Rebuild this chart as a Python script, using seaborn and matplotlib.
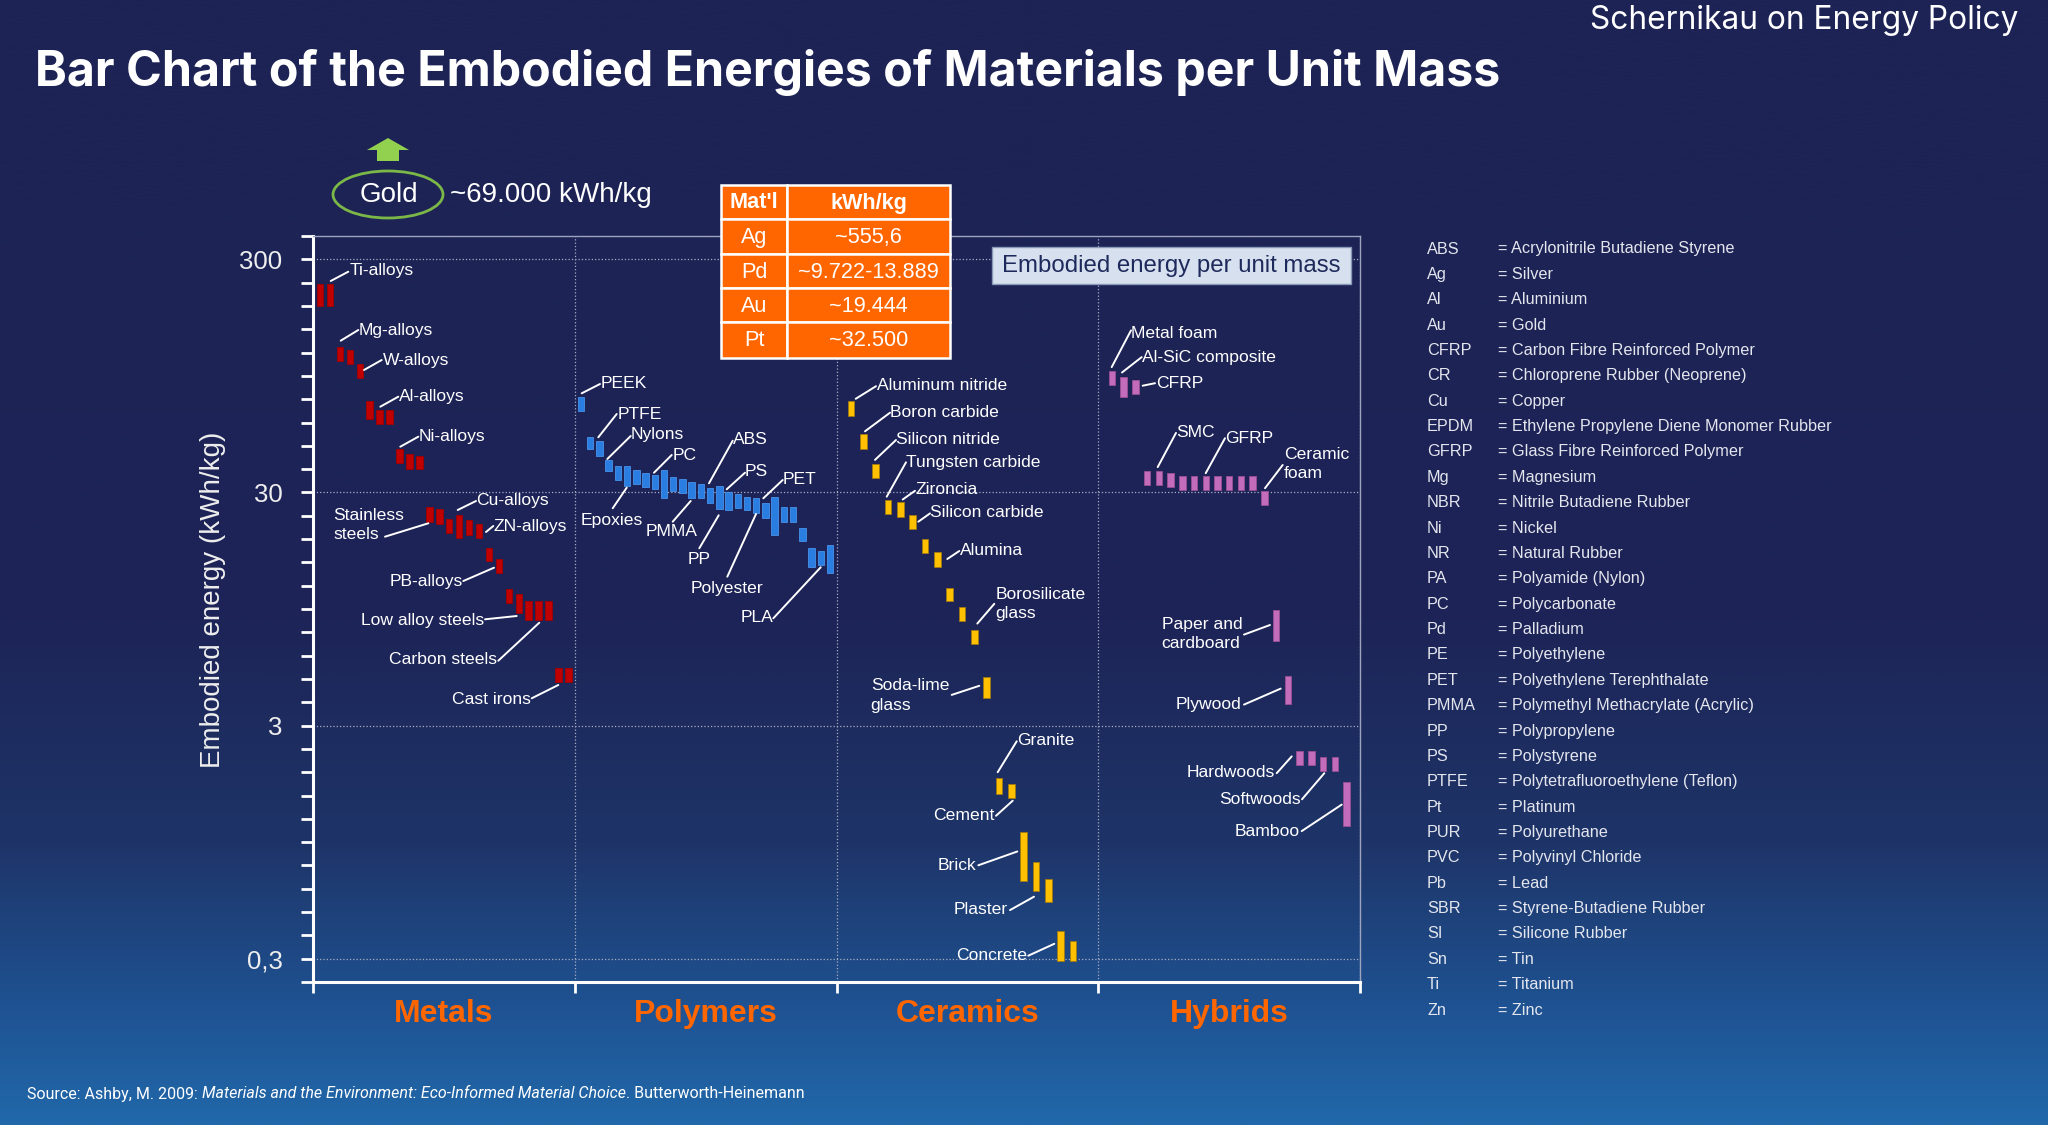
import numpy as np
import pandas as pd
import matplotlib
matplotlib.use("Agg")
import matplotlib.pyplot as plt
import seaborn as sns
from matplotlib.colors import LinearSegmentedColormap
from matplotlib.patches import Rectangle, Ellipse, Polygon
from matplotlib.ticker import FixedLocator, NullFormatter

W, H = 2048, 1125

# ---- data (kWh/kg, low / high end of each material bar) ----
categories = ["Metals", "Polymers", "Ceramics", "Hybrids"]

metals_lo = [190, 190, 110, 107, 93, 62, 59, 59, 40, 38, 38, 22.5, 22, 20, 19.2, 19.8,
             19.2, 15.3, 13.5, 10.1, 9.1, 8.5, 8.5, 8.5, 4.6, 4.6]
metals_hi = [234, 234, 126, 123, 107, 74, 68, 68, 46, 44, 43, 26, 25.4, 23, 24, 22.8,
             22, 17.4, 15.6, 11.6, 11, 10.3, 10.3, 10.3, 5.3, 5.3]

polymers_lo = [67, 46, 43, 37, 34, 32, 32.5, 31.5, 31, 28.3, 30.3, 29.7, 28.3, 28.3,
               26.9, 25.4, 25.1, 25.6, 25.1, 24.6, 23.4, 19.8, 22.5, 22.5, 18.5, 14.4, 14.7, 13.5]
polymers_hi = [77, 52, 50, 41.5, 39, 39, 37.3, 36.2, 35.5, 37.3, 34.8, 34.1, 33.4, 32.5,
               31.2, 32.1, 30, 29.4, 28.8, 28.3, 26.9, 28.8, 25.9, 25.9, 21.2, 17.4, 16.9, 17.8]

ceramics_lo = [64, 46.3, 34.5, 24.2, 23.6, 20.9, 16.5, 14.4, 10.3, 8.44, 6.69, 3.94,
               1.52, 1.47, 0.646, 0.586, 0.527, 0.293, 0.293]
ceramics_hi = [74, 53.6, 39.6, 27.9, 27.2, 23.9, 19.0, 16.6, 11.7, 9.68, 7.68, 4.87,
               1.79, 1.69, 1.05, 0.776, 0.661, 0.393, 0.356]

hybrids_lo = [86.3, 77.2, 79.6, 32.4, 32.4, 31.7, 30.7, 30.7, 30.7, 30.7, 30.7, 30.7, 30.7,
              26.4, 6.92, 3.73, 2.03, 2.03, 1.92, 1.92, 1.11]
hybrids_hi = [99.1, 93.4, 91.4, 37.1, 37.1, 36.4, 35.2, 35.2, 35.2, 35.2, 35.2, 35.2, 35.2,
              30.4, 9.35, 4.88, 2.33, 2.33, 2.20, 2.20, 1.72]

y_ticks = [0.3, 3, 30, 300]
y_tick_labels = ["0,3", "3", "30", "300"]

table_header = ["Mat'l", "kWh/kg"]
table_metals = ["Ag", "Pd", "Au", "Pt"]
table_values = ["~555,6", "~9.722-13.889", "~19.444", "~32.500"]

abbrev = ["ABS", "Ag", "Al", "Au", "CFRP", "CR", "Cu", "EPDM", "GFRP", "Mg", "NBR", "Ni", "NR",
          "PA", "PC", "Pd", "PE", "PET", "PMMA", "PP", "PS", "PTFE", "Pt", "PUR", "PVC", "Pb",
          "SBR", "SI", "Sn", "Ti", "Zn"]
meaning = ["Acrylonitrile Butadiene Styrene", "Silver", "Aluminium", "Gold",
           "Carbon Fibre Reinforced Polymer", "Chloroprene Rubber (Neoprene)", "Copper",
           "Ethylene Propylene Diene Monomer Rubber", "Glass Fibre Reinforced Polymer",
           "Magnesium", "Nitrile Butadiene Rubber", "Nickel", "Natural Rubber",
           "Polyamide (Nylon)", "Polycarbonate", "Palladium", "Polyethylene",
           "Polyethylene Terephthalate", "Polymethyl Methacrylate (Acrylic)", "Polypropylene",
           "Polystyrene", "Polytetrafluoroethylene (Teflon)", "Platinum", "Polyurethane",
           "Polyvinyl Chloride", "Lead", "Styrene-Butadiene Rubber", "Silicone Rubber", "Tin",
           "Titanium", "Zinc"]

# labels: text, text x/y (px), align, leader line x0, y0, x1, y1 (px)
labels = [
    ("Ti-alloys", 350, 271, "left", 330.7, 281, 348.3, 271.7),
    ("Mg-alloys", 359, 330.7, "left", 340.7, 340.7, 358.3, 330),
    ("W-alloys", 382.7, 360.3, "left", 364, 370, 381.7, 360),
    ("Al-alloys", 399.3, 396.7, "left", 380.3, 406.7, 398.3, 396.7),
    ("Ni-alloys", 418.7, 436.7, "left", 400.3, 446.7, 418.3, 436.7),
    ("Cu-alloys", 476.3, 501, "left", 457.7, 510, 476, 501),
    ("ZN-alloys", 493.3, 526, "left", 486, 532, 493.3, 526),
    ("Stainless\nsteels", 333, 525.3, "left", 385, 536.7, 428.3, 523.3),
    ("PB-alloys", 463, 581.7, "right", 463.3, 581, 494, 567.7),
    ("Low alloy steels", 484, 620, "right", 485, 619.3, 516.7, 616),
    ("Carbon steels", 496.7, 659.3, "right", 498.3, 660.7, 539.3, 622.7),
    ("Cast irons", 531, 699.3, "right", 531.7, 698.3, 558.3, 685),
    ("PEEK", 600.7, 383.3, "left", 581.7, 393.3, 600, 384),
    ("PTFE", 617.3, 414.3, "left", 598.3, 437.3, 616.7, 414),
    ("Nylons", 630.7, 435, "left", 607.3, 459, 630.7, 436),
    ("PC", 672.7, 455, "left", 654, 472.7, 671.7, 455),
    ("ABS", 733.3, 440, "left", 709, 483.3, 732.7, 440.7),
    ("PS", 745, 471.7, "left", 726.7, 489.3, 745, 472.7),
    ("PET", 782.7, 479.3, "left", 763.3, 498.3, 782.7, 480),
    ("Epoxies", 612, 520, "center", 612.7, 508.3, 626.7, 487.7),
    ("PMMA", 671.7, 531.7, "center", 672.7, 521.7, 690.7, 501),
    ("PP", 699, 559.3, "center", 699.3, 548.3, 718.7, 515.3),
    ("Polyester", 726.7, 588.3, "center", 727.3, 576.7, 756, 514),
    ("PLA", 773, 617.7, "right", 773.3, 618.3, 820.7, 567.3),
    ("Aluminum nitride", 876.7, 385.8, "left", 855.7, 398.8, 876, 386.2),
    ("Boron carbide", 890, 412.7, "left", 865, 431.3, 890, 412.7),
    ("Silicon nitride", 896, 439.3, "left", 875, 459.9, 896, 440),
    ("Tungsten carbide", 906, 462.3, "left", 886.7, 496.7, 906, 462.3),
    ("Zironcia", 915, 490, "left", 902.7, 499.5, 915, 490.8),
    ("Silicon carbide", 930, 512.6, "left", 918.3, 521.7, 930, 513.4),
    ("Alumina", 960, 550.2, "left", 947.3, 559, 959.3, 551),
    ("Borosilicate\nglass", 995.7, 603.8, "left", 977.3, 623.6, 994.3, 603.8),
    ("Soda-lime\nglass", 870.7, 695.5, "left", 951.7, 694.9, 979.3, 685.8),
    ("Granite", 1016.7, 740.5, "left", 997.7, 772.2, 1016.7, 741.3),
    ("Cement", 994, 815, "right", 996, 815.8, 1012.7, 800.7),
    ("Brick", 976.7, 865.3, "right", 978.3, 865.3, 1017.3, 851.5),
    ("Plaster", 1008, 910, "right", 1010, 910.1, 1034, 896.7),
    ("Concrete", 1027.3, 955.7, "right", 1028.3, 955.7, 1054.3, 943.8),
    ("Metal foam", 1131, 333.9, "left", 1111.7, 367.1, 1131, 330.4),
    ("Al-SiC composite", 1141.7, 357.1, "left", 1122, 372.5, 1141.7, 357.1),
    ("CFRP", 1155.7, 383.2, "left", 1142.7, 385.7, 1155, 383.2),
    ("SMC", 1176, 432.9, "left", 1157.7, 467.1, 1176, 432.9),
    ("GFRP", 1225, 438.2, "left", 1205.7, 473.2, 1225, 438.2),
    ("Ceramic\nfoam", 1284, 464.3, "left", 1265, 488.2, 1282.7, 465),
    ("Paper and\ncardboard", 1161.7, 633.9, "left", 1244, 634.6, 1270, 625),
    ("Plywood", 1241.7, 704.6, "right", 1244, 704.6, 1280.7, 688.6),
    ("Hardwoods", 1275, 772.1, "right", 1276.7, 773.2, 1291.7, 756.4),
    ("Softwoods", 1300.7, 799.3, "right", 1302, 799.3, 1324.3, 773.2),
    ("Bamboo", 1300, 831.1, "right", 1301.7, 831.1, 1341.7, 804.6),
]

# ---- styling ----
sns.set_theme(style="white")
plt.rcParams["font.family"] = ["Liberation Sans", "DejaVu Sans"]

NAVY = "#1d2354"
ORANGE = "#ff6600"
colors = {"Metals": ("#c00000", "#a00000"), "Polymers": ("#2a7de1", "#4a92ea"),
          "Ceramics": ("#ffc000", "#a07a10"), "Hybrids": ("#c46cbc", "#9a4f93")}
# first/last bar position inside each category column (fraction of column)
spans = {"Metals": (0.0267, 0.9761), "Polymers": (0.0239, 0.9752),
         "Ceramics": (0.0554, 0.9035), "Hybrids": (0.0525, 0.9484)}

rows = []
for k, (cat, lo, hi) in enumerate(zip(categories,
                                      [metals_lo, polymers_lo, ceramics_lo, hybrids_lo],
                                      [metals_hi, polymers_hi, ceramics_hi, hybrids_hi])):
    a, b = spans[cat]
    xs = k - 0.5 + np.linspace(a, b, len(lo))
    rows.append(pd.DataFrame({"group": cat, "x": xs, "lo": lo, "hi": hi}))
bars = pd.concat(rows, ignore_index=True)

fig = plt.figure(figsize=(W / 100, H / 100), dpi=100)

# background gradient
bg = fig.add_axes([0, 0, 1, 1], zorder=0)
grad = LinearSegmentedColormap.from_list(
    "bg", [(0, NAVY), (0.55, "#1d2457"), (0.75, "#1e3468"), (0.9, "#1f5393"), (1, "#2168aa")])
bg.imshow(np.linspace(0, 1, 512)[:, None], aspect="auto", cmap=grad, extent=(0, 1, 0, 1))
bg.axis("off")

# main axes
x0, x1, yt, yb = 313, 1360, 236, 982
ax = fig.add_axes([x0 / W, 1 - yb / H, (x1 - x0) / W, (yb - yt) / H], zorder=1)
ax.set_facecolor("none")
ax.set_yscale("log")
ax.set_xlim(-0.5, 3.5)
ax.set_ylim(0.3 * 10 ** -0.1, 300 * 10 ** 0.1)

for cat, sub in bars.groupby("group", sort=False):
    fc, ec = colors[cat]
    ax.bar(sub["x"], sub["hi"] - sub["lo"], bottom=sub["lo"], width=0.0248,
           color=fc, edgecolor=ec, linewidth=0.6, zorder=3)

ax.yaxis.set_major_locator(FixedLocator(y_ticks))
ax.set_yticklabels(y_tick_labels)
minor_y = [300 * 10 ** (0.1 * k) for k in range(-32, 2) if k % 10 != 0]
ax.yaxis.set_minor_locator(FixedLocator(minor_y))
ax.yaxis.set_minor_formatter(NullFormatter())
ax.tick_params(axis="y", which="both", direction="out", length=9, width=2,
               color="white", left=True)
ax.tick_params(axis="y", which="major", labelsize=18.5, labelcolor="#eeeeee", pad=13)

ax.xaxis.set_major_locator(FixedLocator([-0.5, 0.5, 1.5, 2.5, 3.5]))
ax.xaxis.set_major_formatter(NullFormatter())
ax.xaxis.set_minor_locator(FixedLocator([0, 1, 2, 3]))
ax.set_xticklabels(categories, minor=True)
ax.tick_params(axis="x", which="major", direction="out", length=8, width=2,
               color="white", bottom=True)
ax.tick_params(axis="x", which="minor", length=0, pad=12, labelsize=23,
               labelcolor=ORANGE)
for t in ax.get_xticklabels(minor=True):
    t.set_fontweight("bold")

ax.grid(True, which="major", axis="both", color="#a8aec4", linestyle=":", linewidth=0.9)
ax.set_axisbelow(True)
for side in ["left", "bottom"]:
    ax.spines[side].set_color("white")
    ax.spines[side].set_linewidth(2.2)
for side in ["top", "right"]:
    ax.spines[side].set_color("#9ea4bd")
    ax.spines[side].set_linewidth(1)
ax.set_xlabel("")
ax.set_ylabel("")

# overlay in pixel coordinates for the decoration
ov = fig.add_axes([0, 0, 1, 1], zorder=2)
ov.set_xlim(0, W)
ov.set_ylim(H, 0)
ov.axis("off")

ov.text(35, 86, "Bar Chart of the Embodied Energies of Materials per Unit Mass",
        family=["Inter", "Roboto"], fontweight="bold", fontsize=34.8, color="white",
        va="baseline")
ov.text(2018, 20, "Schernikau on Energy Policy", family=["Inter", "Roboto"], fontsize=22.8,
        color="white", ha="right", va="center")

ov.text(213, 600, "Embodied energy (kWh/kg)", rotation=90, fontsize=20,
        color="#eeeeee", ha="center", va="center")

for txt, tx, ty, ha, lx0, ly0, lx1, ly1 in labels:
    ov.plot([lx0, lx1], [ly0, ly1], color="white", lw=1.4, solid_capstyle="round")
    ov.text(tx, ty, txt, fontsize=12.6, color="white", ha=ha, va="center",
            multialignment="left" if ha != "center" else "center", linespacing=1.35)

# gold marker
ov.add_patch(Polygon([(367, 150), (388, 138), (409, 150), (399, 150), (399, 161),
                      (377, 161), (377, 150)], closed=True, fc="#92d050", ec="none"))
ov.add_patch(Ellipse((388, 194.5), 110, 47, fc="none", ec="#7cb848", lw=2))
ov.text(389, 195, "Gold", fontsize=20, color="white", ha="center", va="center")
ov.text(450, 195, "~69.000 kWh/kg", fontsize=20, color="white", ha="left", va="center")

# table
tx_edges = [721, 787, 950]
ty_edges = [185, 219, 254, 288, 322, 358]
cells = [table_header] + [[m, v] for m, v in zip(table_metals, table_values)]
for r, row in enumerate(cells):
    for c, val in enumerate(row):
        ov.add_patch(Rectangle((tx_edges[c], ty_edges[r]), tx_edges[c + 1] - tx_edges[c],
                               ty_edges[r + 1] - ty_edges[r], fc=ORANGE, ec="white", lw=1.8))
        ov.text((tx_edges[c] + tx_edges[c + 1]) / 2, (ty_edges[r] + ty_edges[r + 1]) / 2 + 1,
                val, fontsize=15.6, color="white", ha="center", va="center",
                fontweight="bold" if r == 0 else "normal")

# caption box
ov.add_patch(Rectangle((992, 247), 359, 37, fc="#d6e0ef", ec="#8a98b8", lw=1))
ov.text(1002, 266, "Embodied energy per unit mass", fontsize=17.3, color="#1f2a5c",
        ha="left", va="center")

# abbreviations
for i, (ab, mean) in enumerate(zip(abbrev, meaning)):
    y = 249 + 25.37 * i
    ov.text(1427, y, ab, fontsize=11.7, color="#e4e6ee", va="center")
    ov.text(1498, y, "= " + mean, fontsize=11.7, color="#e4e6ee", va="center")

# source line
s1 = ov.text(27, 1094, "Source: Ashby, M. 2009: ", family="Roboto", fontsize=11.5,
             color="white", va="center")
s2 = ov.annotate("Materials and the Environment: Eco-Informed Material Choice",
                 xy=(1, 0), xycoords=s1, va="bottom", ha="left", family="Roboto",
                 style="italic", fontsize=11.5, color="white")
ov.annotate(". Butterworth-Heinemann", xy=(1, 0), xycoords=s2, va="bottom", ha="left",
            family="Roboto", fontsize=11.5, color="white")

fig.savefig("out.png", dpi=100)
